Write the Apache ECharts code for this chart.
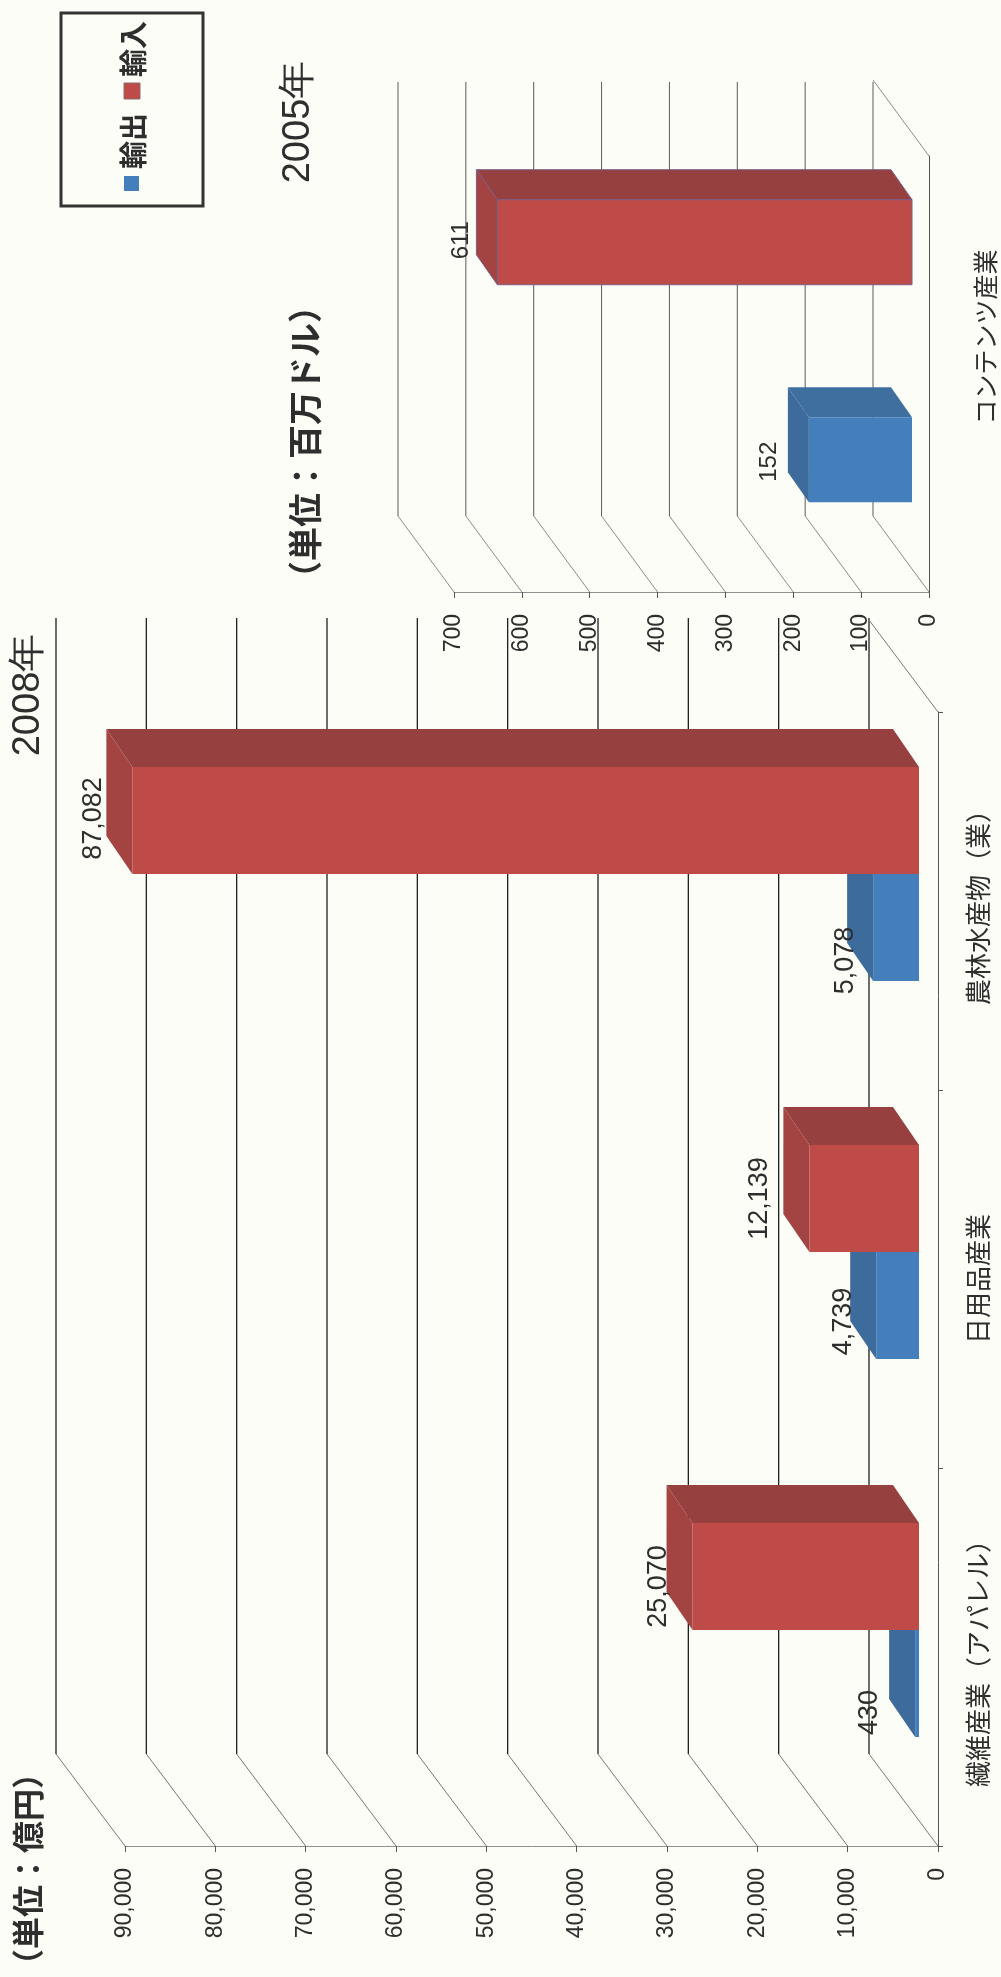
<!DOCTYPE html>
<html>
<head>
<meta charset="utf-8">
<style>html,body{margin:0;padding:0;background:#fdfdf7}#c{width:1001px;height:1977px}</style>
<script src="https://cdn.jsdelivr.net/npm/echarts@6/dist/echarts.min.js"></script>
</head>
<body>
<div id="c"></div>
<script>
// ---- data ----
const categories2008 = ['繊維産業（アパレル）', '日用品産業', '農林水産物（業）'];
const exports2008 = [430, 4739, 5078];
const imports2008 = [25070, 12139, 87082];
const ticks2008 = [0, 10000, 20000, 30000, 40000, 50000, 60000, 70000, 80000, 90000];

const categories2005 = ['コンテンツ産業'];
const exports2005 = [152];
const imports2005 = [611];
const ticks2005 = [0, 100, 200, 300, 400, 500, 600, 700];

const seriesNames = ['輸出', '輸入'];
const unit2008 = '（単位：億円）';
const unit2005 = '（単位：百万ドル）';
const year2008 = '2008年';
const year2005 = '2005年';

// ---- look ----
const FONT = '"Liberation Sans", Arial, sans-serif';
const CJK = '"Noto Sans CJK JP", sans-serif';
const TEXT = '#2e2e2e';
const COL = {
  blue: {front: '#447fbb', top: '#3f6f9f', end: '#3d6c9c'},
  red: {front: '#bf4b48', top: '#96403f', end: '#a34443'}
};
// 3D projection per chart: floor = axis plane to back wall, shift = axis plane to
// bar front, depth = bar front to bar back, barFrac/offFrac = fractions of the band
const view2008 = {floor: [-69, -92], shift: [-19, -27], depth: [-26, -38], barFrac: 0.283, offFrac: 0.1415, wallTop: 618, wall: '#1f1f1f', wallWidth: 1.3, diag: '#777', labelSize: 27};
const view2005 = {floor: [-56, -76], shift: [-17, -23], depth: [-21, -30], barFrac: 0.195, offFrac: 0.2495, wallTop: 82, wall: '#5a5a5a', wallWidth: 1, diag: '#8a8a8a', outline: '#7c5c86', labelSize: 24};
const nudge = {
  exports2008: [[-20, 29], [-7, 16], [-2, 33]],
  imports2008: [[-8, 10], [-24, 0], [-13, -2]],
  exports2005: [[-18, 2]],
  imports2005: [[-15, -2]]
};

function wallSeries(ticks, view, idx) {
  return {
    type: 'custom', xAxisIndex: idx, yAxisIndex: idx, z: 1, silent: true, clip: false,
    data: ticks.map(v => [v]), encode: {x: 0},
    renderItem(params, api) {
      const cs = params.coordSys;
      const x = api.coord([api.value(0), 0])[0];
      const y = cs.y + cs.height;
      const bx = x + view.floor[0], by = y + view.floor[1];
      const children = [
        {type: 'line', shape: {x1: x, y1: y, x2: bx, y2: by}, style: {stroke: view.diag, lineWidth: 1}},
        {type: 'line', shape: {x1: bx, y1: by, x2: bx, y2: view.wallTop}, style: {stroke: view.wall, lineWidth: view.wallWidth}}
      ];
      if (api.value(0) === 0) {
        children.push({type: 'line', shape: {x1: x, y1: cs.y, x2: bx, y2: cs.y + view.floor[1]}, style: {stroke: view.diag, lineWidth: 1}});
      }
      return {type: 'group', children};
    }
  };
}

function barSeries(name, values, colour, side, view, nudges, idx) {
  return {
    type: 'custom', name, xAxisIndex: idx, yAxisIndex: idx, z: side < 0 ? 4 : 3, clip: false,
    data: values.map((v, i) => [v, i]), encode: {x: 0, y: 1},
    renderItem(params, api) {
      const v = api.value(0), c = api.value(1);
      const base = api.coord([0, c]), end = api.coord([v, c]);
      const band = api.size([0, 1])[1];
      const h = band * view.barFrac;
      const cy = base[1] + view.shift[1] + side * band * view.offFrac;
      const top = cy - h / 2, bot = cy + h / 2;
      const r = base[0] + view.shift[0], l = end[0] + view.shift[0];
      const dx = view.depth[0], dy = view.depth[1];
      const edge = view.outline && side < 0 ? {stroke: view.outline, lineWidth: 1} : {};
      const n = nudges[params.dataIndex];
      return {type: 'group', children: [
        {type: 'polygon', shape: {points: [[l, top], [r, top], [r + dx, top + dy], [l + dx, top + dy]]},
          style: Object.assign({fill: colour.top}, edge)},
        {type: 'polygon', shape: {points: [[l, top], [l, bot], [l + dx, bot + dy], [l + dx, top + dy]]},
          style: Object.assign({fill: colour.end}, edge)},
        {type: 'rect', shape: {x: l, y: top, width: r - l, height: h},
          style: Object.assign({fill: colour.front}, edge)},
        {type: 'text', x: l + dx + n[0], y: cy + n[1], rotation: Math.PI / 2, z2: 20,
          style: {text: v.toLocaleString('en-US'), font: view.labelSize + 'px ' + FONT, fill: TEXT, align: 'center', verticalAlign: 'middle'}}
      ]};
    }
  };
}

function vText(text, x, y, size, weight, family) {
  return {type: 'text', x, y, rotation: Math.PI / 2, z: 30, silent: true,
    style: {text, font: weight + ' ' + size + 'px ' + family, fill: TEXT, align: 'center', verticalAlign: 'middle'}};
}

const valueAxisBase = {
  type: 'value', position: 'bottom', inverse: true, min: 0, splitLine: {show: false},
  axisLine: {show: true, lineStyle: {color: '#8f8f8f', width: 1}},
  axisTick: {show: true, length: 6, lineStyle: {color: '#555'}},
  axisLabel: {rotate: 90, margin: 22, fontFamily: FONT, fontSize: 23, color: TEXT, hideOverlap: false}
};
const catAxisBase = {
  type: 'category', position: 'right', axisLine: {show: true, onZero: false, lineStyle: {color: '#555', width: 1}},
  axisTick: {show: true, length: 5, lineStyle: {color: '#555'}}, splitLine: {show: false}
};

const chart = echarts.init(document.getElementById('c'), null, {renderer: 'canvas'});
chart.setOption({
  animation: false,
  backgroundColor: '#fdfdf7',
  grid: [
    {left: 125, right: 63, top: 712, bottom: 131},
    {left: 454, right: 72, top: 156, bottom: 1385}
  ],
  xAxis: [
    Object.assign({}, valueAxisBase, {gridIndex: 0, max: 90000, interval: 10000, axisLabel: Object.assign({}, valueAxisBase.axisLabel, {formatter: v => v.toLocaleString('en-US')})}),
    Object.assign({}, valueAxisBase, {gridIndex: 1, max: 700, interval: 100})
  ],
  yAxis: [
    Object.assign({}, catAxisBase, {gridIndex: 0, data: categories2008, axisLabel: {rotate: 90, margin: 27, fontFamily: CJK, fontSize: 26, color: TEXT, interval: 0}}),
    Object.assign({}, catAxisBase, {gridIndex: 1, data: categories2005, axisTick: {show: false}, axisLabel: {rotate: 90, margin: 44, fontFamily: CJK, fontSize: 25, color: TEXT, padding: [0, 0, 0, 74]}})
  ],
  series: [
    wallSeries(ticks2008, view2008, 0),
    wallSeries(ticks2005, view2005, 1),
    barSeries(seriesNames[0], exports2008, COL.blue, 1, view2008, nudge.exports2008, 0),
    barSeries(seriesNames[1], imports2008, COL.red, -1, view2008, nudge.imports2008, 0),
    barSeries(seriesNames[0], exports2005, COL.blue, 1, view2005, nudge.exports2005, 1),
    barSeries(seriesNames[1], imports2005, COL.red, -1, view2005, nudge.imports2005, 1)
  ],
  graphic: [
    vText(unit2008, 28, 1869, 32, 'bold', CJK),
    vText(unit2005, 305, 442, 34, 'bold', CJK),
    vText(year2008, 29, 695, 38, 'normal', FONT),
    vText(year2005, 299, 122, 38, 'normal', FONT),
    {type: 'rect', z: 29, silent: true, shape: {x: 61, y: 13, width: 142, height: 193},
      style: {fill: '#fdfdf7', stroke: '#333', lineWidth: 3}},
    {type: 'rect', z: 30, silent: true, shape: {x: 124, y: 176, width: 15, height: 15}, style: {fill: COL.blue.front}},
    {type: 'rect', z: 30, silent: true, shape: {x: 124, y: 83, width: 16, height: 16}, style: {fill: COL.red.front, stroke: '#8d6a6a', lineWidth: 1}},
    vText(seriesNames[0], 133, 141, 28, 'bold', CJK),
    vText(seriesNames[1], 133, 49, 28, 'bold', CJK)
  ]
});
</script>
</body>
</html>
